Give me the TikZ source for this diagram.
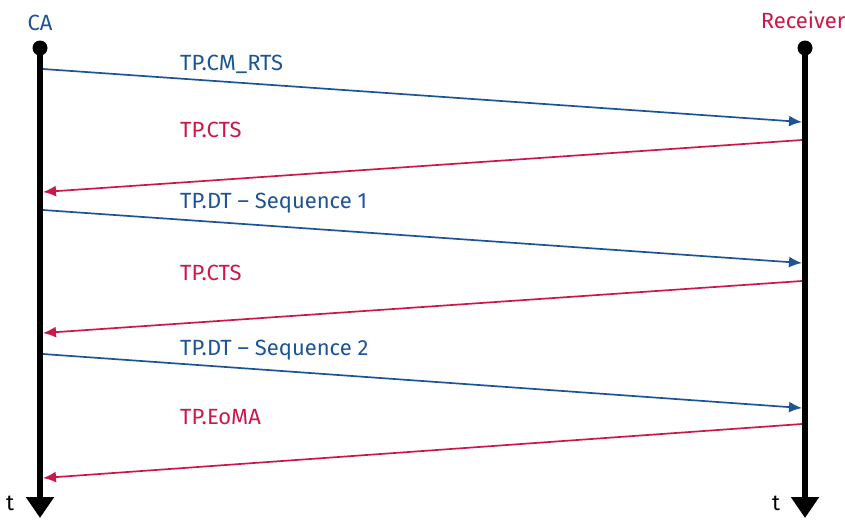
\documentclass[tikz,border=0pt]{standalone}
\usepackage{fontspec}
\setmainfont{Fira Sans}
\usepackage{tikz}
\usetikzlibrary{arrows.meta, positioning}
\definecolor{seqblue}{RGB}{28,84,150}
\definecolor{seqred}{RGB}{204,24,72}
\tikzset{>=Latex}
\tikzset{font=\fontsize{22}{26}\selectfont}
\tikzset{
  lifeline/.style={line width=6pt, -{Triangle[width=27pt,length=21pt]}},
  headdot/.style={circle, fill=black, inner sep=0pt, minimum size=15pt},
  msgblue/.style={seqblue, line width=1.7pt, -{Latex[length=13pt,width=11pt]}},
  msgred/.style={seqred, line width=1.7pt, -{Latex[length=13pt,width=11pt]}},
  lblblue/.style={text=seqblue, anchor=base west, inner sep=0pt},
  lblred/.style={text=seqred, anchor=base west, inner sep=0pt}
}

\begin{document}
\begin{tikzpicture}[x=1pt, y=-1pt]
  \useasboundingbox (0,0) rectangle (845,520);
  % participants
  \node[headdot] (ca) at (40,48) {};
  \node[headdot] (rx) at (805,48) {};
  \node[text=seqblue, anchor=base] (calbl) at (40,30) {CA};
  \node[text=seqred, anchor=base] (rxlbl) at (803,28) {Receiver};
  \coordinate (caend) at (40,518);
  \coordinate (rxend) at (805,518);
  \draw[lifeline] (ca.center) -- (caend);
  \draw[lifeline] (rx.center) -- (rxend);
  \node[anchor=base] (tca) at (10,510) {t};
  \node[anchor=base] (trx) at (776,510) {t};
  % message end points on the lifelines
  \foreach \i/\y in {1/69,2/192,3/210,4/333,5/354,6/478}
    \coordinate (ca-\i) at (43,\y);
  \foreach \i/\y in {1/122,2/140,3/263,4/281,5/408,6/424}
    \coordinate (rx-\i) at (802,\y);
  \foreach \i in {1,3,5}
    \draw[msgblue] (ca-\i) -- (rx-\i);
  \foreach \i in {2,4,6}
    \draw[msgred] (rx-\i) -- (ca-\i);
  % message labels
  \node[lblblue] (rts) at (180,70) {TP.CM\_RTS};
  \node[lblred] (cts1) at (180,137) {TP.CTS};
  \node[lblblue] (seq1) at (180,208) {TP.DT – Sequence 1};
  \node[lblred] (cts2) at (180,280) {TP.CTS};
  \node[lblblue] (seq2) at (180,355) {TP.DT – Sequence 2};
  \node[lblred] (eoma) at (180,424) {TP.EoMA};
\end{tikzpicture}
\end{document}
